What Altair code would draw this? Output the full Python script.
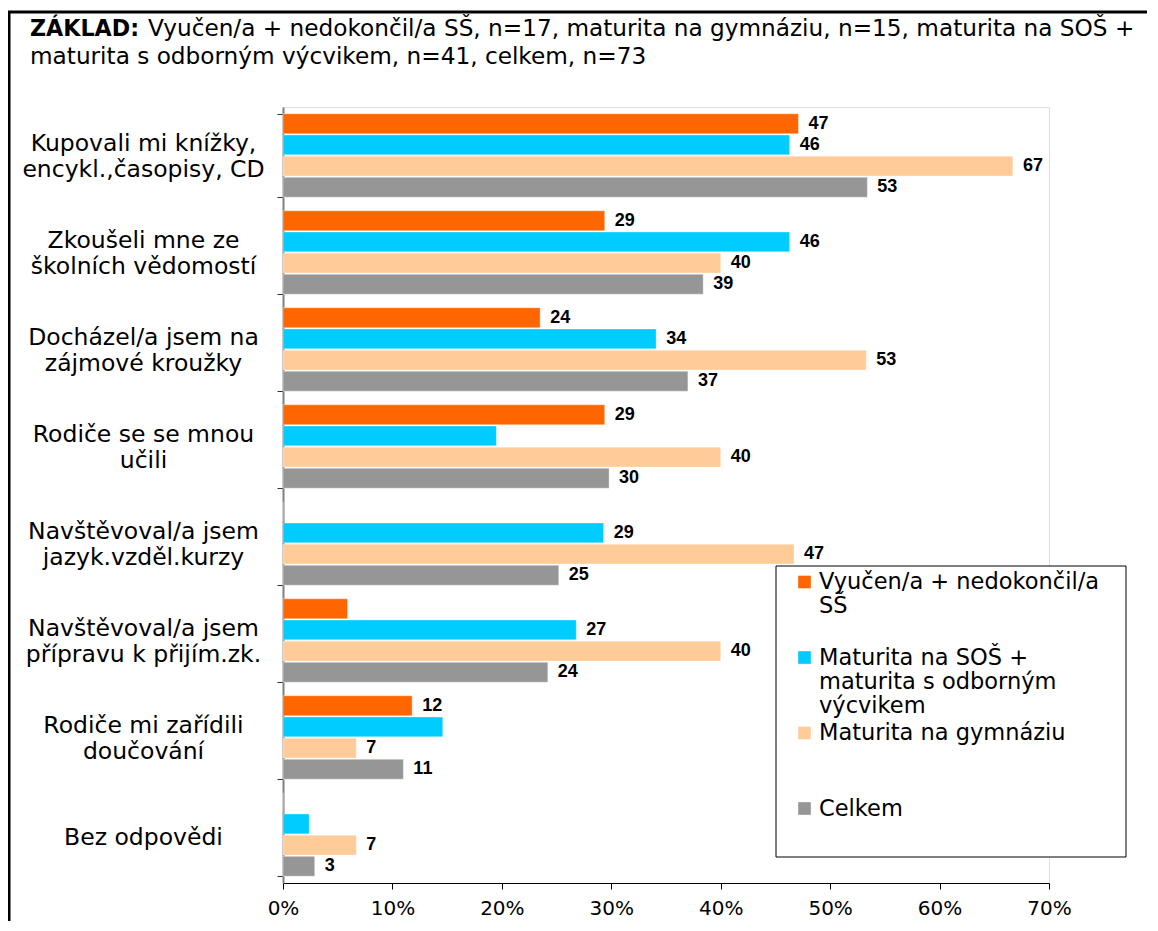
import altair as alt
import pandas as pd

categories = [
    "Kupovali mi knížky,\nencykl.,časopisy, CD",
    "Zkoušeli mne ze\nškolních vědomostí",
    "Docházel/a jsem na\nzájmové kroužky",
    "Rodiče se se mnou\nučili",
    "Navštěvoval/a jsem\njazyk.vzděl.kurzy",
    "Navštěvoval/a jsem\npřípravu k přijím.zk.",
    "Rodiče mi zařídili\ndoučování",
    "Bez odpovědi",
]
series = [
    "Vyučen/a + nedokončil/a\nSŠ",
    "Maturita na SOŠ +\nmaturita s odborným\nvýcvikem",
    "Maturita na gymnáziu",
    "Celkem",
]
colors = ["#FF6600", "#00CCFF", "#FFCC99", "#969696"]

vals_vyucen = [47.1, 29.4, 23.5, 29.4, 0.0, 5.9, 11.8, 0.0]
vals_sos = [46.3, 46.3, 34.1, 19.5, 29.3, 26.8, 14.6, 2.4]
vals_gym = [66.7, 40.0, 53.3, 40.0, 46.7, 40.0, 6.7, 6.7]
vals_celkem = [53.4, 38.4, 37.0, 29.8, 25.2, 24.2, 11.0, 2.9]

lab_vyucen = ["47", "29", "24", "29", None, None, "12", None]
lab_sos = ["46", "46", "34", None, "29", "27", None, None]
lab_gym = ["67", "40", "53", "40", "47", "40", "7", "7"]
lab_celkem = ["53", "39", "37", "30", "25", "24", "11", "3"]

header_bold = "ZÁKLAD:"
header_line1 = "Vyučen/a + nedokončil/a SŠ, n=17, maturita na gymnáziu, n=15, maturita na SOŠ +"
header_line2 = "maturita s odborným výcvikem, n=41, celkem, n=73"

rows = []
for s, vals, labs in zip(series, [vals_vyucen, vals_sos, vals_gym, vals_celkem],
                         [lab_vyucen, lab_sos, lab_gym, lab_celkem]):
    for c, v, l in zip(categories, vals, labs):
        rows.append({"kat": c, "ser": s, "val": v, "lab": l})
df = pd.DataFrame(rows)
legend_df = pd.DataFrame({"ser": series})

W, H = 766, 776
FONT = "DejaVu Sans"
color_scale = alt.Scale(domain=series, range=colors)

y_enc = alt.Y("kat:N", sort=categories, title=None,
              scale=alt.Scale(paddingInner=0.14, paddingOuter=0.07),
              axis=alt.Axis(labelExpr="isString(datum.value) ? split(datum.value, '\\n') : ''",
                            labelAlign="center",
                            labelOffset={"condition": {"test": "isString(datum.value) && indexof(datum.value, '\\n') >= 0",
                                                       "value": -12}, "value": 3},
                            labelPadding=134, labelFont=FONT, labelFontSize=23.5,
                            labelLineHeight=26, labelColor="#000000", labelLimit=400,
                            tickBand="extent", tickSize=6, tickColor="#333333",
                            domainColor="#808080", domainWidth=2, grid=False))
yoff = alt.YOffset("ser:N", sort=series, scale=alt.Scale(paddingInner=0.06, paddingOuter=0))
x_enc = alt.X("val:Q", title=None,
              scale=alt.Scale(domain=[0, 70], nice=False),
              axis=alt.Axis(values=[0, 10, 20, 30, 40, 50, 60, 70],
                            labelExpr="datum.value + '%'", labelFont=FONT,
                            labelFontSize=20, labelColor="#000000", labelPadding=9,
                            labelFlush=False,
                            tickSize=6, tickColor="#000000", domainColor="#000000",
                            domainWidth=1, grid=False))

bars = alt.Chart(df).mark_bar(stroke="#ffffff", strokeWidth=0.6, strokeOpacity=0.6).encode(
    y=y_enc, yOffset=yoff, x=x_enc,
    color=alt.Color("ser:N", sort=series, scale=color_scale, legend=None),
)

labels = alt.Chart(df).transform_filter("isValid(datum.lab)").mark_text(
    align="left", baseline="middle", dx=10, font="Liberation Sans",
    fontWeight="bold", fontSize=18, color="#000000"
).encode(y=alt.Y("kat:N", sort=categories), yOffset=yoff, x="val:Q", text="lab:N")

one = alt.Data(values=[{"a": 1}])

# legend (drawn as a guide box)
leg_box = alt.Chart(one).mark_rect(fill="#ffffff", stroke="#000000", strokeWidth=1).encode(
    x=alt.value(493), x2=alt.value(843), y=alt.value(459), y2=alt.value(750))
leg_base = alt.Chart(legend_df).transform_window(idx="row_number()").transform_calculate(
    ly="475 + (datum.idx - 1) * 75.5", lines="split(datum.ser, '\\n')")
leg_sym = leg_base.mark_square(size=160, opacity=1).encode(
    x=alt.value(521.5), y=alt.Y("ly:Q", scale=None, axis=None),
    color=alt.Color("ser:N", scale=color_scale, legend=None))
leg_txt = leg_base.mark_text(align="left", baseline="middle", font=FONT, fontSize=22.5,
                             lineHeight=24, color="#000000").encode(
    x=alt.value(536), y=alt.Y("ly:Q", scale=None, axis=None), text="lines:N")

frame_top = alt.Chart(one).mark_rule(color="#000000", strokeWidth=3).encode(
    x=alt.value(-276), x2=alt.value(890), y=alt.value(-95))
frame_left = alt.Chart(one).mark_rule(color="#000000", strokeWidth=3).encode(
    x=alt.value(-274), y=alt.value(-96), y2=alt.value(850))

h_bold = alt.Chart(one).mark_text(align="left", baseline="middle", font=FONT,
                                  fontWeight="bold", fontSize=22.2, color="#000000").encode(
    x=alt.value(-253), y=alt.value(-78), text=alt.value(header_bold))
h_l1 = alt.Chart(one).mark_text(align="left", baseline="middle", font=FONT,
                                fontSize=23.2, color="#000000").encode(
    x=alt.value(-135), y=alt.value(-78), text=alt.value(header_line1))
h_l2 = alt.Chart(one).mark_text(align="left", baseline="middle", font=FONT,
                                fontSize=23.2, color="#000000").encode(
    x=alt.value(-253), y=alt.value(-50), text=alt.value(header_line2))

chart = alt.layer(bars, labels, leg_box, leg_sym, leg_txt, frame_top, frame_left,
                  h_bold, h_l1, h_l2).properties(
    width=W, height=H,
    autosize=alt.AutoSizeParams(type="none"),
    padding={"left": 275, "top": 99, "right": 98, "bottom": 38},
).configure_view(stroke="transparent", strokeWidth=0).configure(background="#ffffff")

chart.save("out.html", embed_options={"renderer": "svg", "actions": False})
